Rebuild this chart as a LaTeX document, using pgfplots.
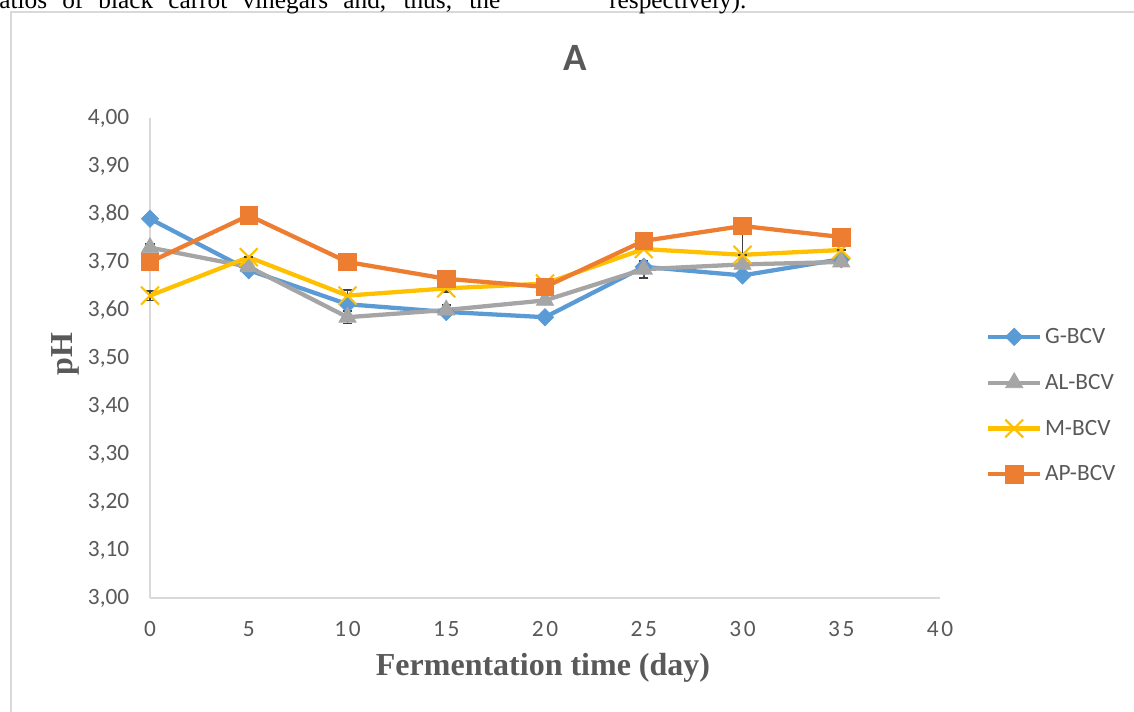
\documentclass[border=0pt]{standalone}
\usepackage{fontspec}
\setmainfont{Liberation Serif}
\newfontfamily\calfont{Carlito}
\newfontfamily\calspfont[LetterSpace=12]{Carlito}
\usepackage{pgfplots}
\pgfplotsset{compat=1.18}
\definecolor{cG}{HTML}{5B9BD5}
\definecolor{cAL}{HTML}{A5A5A5}
\definecolor{cM}{HTML}{FFC000}
\definecolor{cAP}{HTML}{ED7D31}
\definecolor{txt}{HTML}{595959}
\definecolor{axl}{HTML}{D9D9D9}
\begin{document}
\begin{tikzpicture}
\useasboundingbox (0,0) rectangle (850.5pt,533.25pt);
\clip (0,0) rectangle (850.5pt,533.25pt);
% frame of the chart
\draw[color=axl, line width=1.5pt] (8.25pt,-5pt) -- (8.25pt,523.9pt) -- (870pt,523.9pt);
% cut text line at top
\node[anchor=base west, inner sep=0pt, font=\fontsize{19}{21}\selectfont] at (-7pt,526.5pt)
  {\makebox[382pt][s]{ratios of black carrot vinegars and, thus, the}};
\node[anchor=base west, inner sep=0pt, font=\fontsize{19}{21}\selectfont] at (456.75pt,526.5pt) {respectively).};
\begin{axis}[
  at={(112.5pt,84.75pt)}, anchor=south west,
  scale only axis, width=592.5pt, height=360pt,
  xmin=0, xmax=40, ymin=3, ymax=4,
  xtick={0,5,...,40}, ytick={3,3.1,...,4.01},
  axis lines=left,
  axis line style={-, draw=axl, line width=1.3pt},
  major tick length=0pt,
  tick label style={text=txt},
  yticklabel style={font=\fontsize{17.5}{20}\selectfont\calfont, anchor=east, xshift=-12pt},
  xticklabel style={font=\fontsize{17.5}{20}\selectfont\calspfont, anchor=north, yshift=-14pt},
  /pgf/number format/.cd, fixed, fixed zerofill, precision=2, use comma, assume math mode=true,
  /pgfplots/.cd,
  xticklabel={\pgfmathprintnumber[fixed, precision=0]{\tick}},
  clip=false,
  legend style={draw=none, fill=none, at={(1.058,0.568)}, anchor=north west,
    font=\fontsize{17.5}{20}\selectfont\calfont, text=txt, row sep=17.5pt, inner sep=0pt,
    /tikz/every even column/.append style={column sep=4pt}},
  legend cell align=left,
  legend image code/.code={\draw[#1, mark repeat=2, mark phase=2] plot coordinates {(0pt,0pt) (19.5pt,0pt) (39pt,0pt)};},
  every axis plot/.append style={line width=3.2pt},
  error bars/y dir=both, error bars/y explicit,
  error bars/error bar style={line width=1.2pt, color=black!75},
  error bars/error mark options={rotate=90, mark size=3.5pt, line width=1.2pt, color=black!75},
]
\addplot[color=cG, mark=square*, mark size=4.6pt, mark options={rotate=45, fill=cG, draw=cG, line width=0.5pt}]
  coordinates {(0,3.790) +- (0,0) (5,3.683) +- (0,0) (10,3.612) +- (0,0) (15,3.596) +- (0,0)
               (20,3.585) +- (0,0) (25,3.690) +- (0,0.012) (30,3.672) +- (0,0) (35,3.706) +- (0,0)};
\addlegendentry{G-BCV}
\addplot[color=cAL, mark=triangle*, mark size=7.5pt, mark options={fill=cAL, draw=cAL, line width=0.5pt}]
  coordinates {(0,3.730) +- (0,0.008) (5,3.690) +- (0,0) (10,3.585) +- (0,0.013) (15,3.600) +- (0,0.011)
               (20,3.620) +- (0,0) (25,3.685) +- (0,0.018) (30,3.695) +- (0,0) (35,3.700) +- (0,0)};
\addlegendentry{AL-BCV}
\addplot[color=cM, mark=x, mark size=9.5pt, mark options={draw=cM, line width=1.6pt}]
  coordinates {(0,3.630) +- (0,0.01) (5,3.710) +- (0,0) (10,3.630) +- (0,0.012) (15,3.645) +- (0,0.008)
               (20,3.655) +- (0,0.008) (25,3.727) +- (0,0) (30,3.715) +- (0,0) (35,3.725) +- (0,0)};
\addlegendentry{M-BCV}
\addplot[color=cAP, mark=square*, mark size=6.6pt, mark options={fill=cAP, draw=cAP, line width=0.5pt}]
  coordinates {(0,3.700) +- (0,0) (5,3.797) +- (0,0) (10,3.700) +- (0,0) (15,3.665) +- (0,0)
               (20,3.648) +- (0,0) (25,3.744) +- (0,0) (30,3.775) += (0,0) -= (0,0.06) (35,3.752) +- (0,0.006)};
\addlegendentry{AP-BCV}
\end{axis}
\node[font=\fontsize{29}{32}\selectfont\calfont\bfseries, text=txt] at (431.25pt,489.75pt) {A};
\node[font=\fontsize{24}{28}\selectfont\bfseries, text=txt, rotate=90] at (48.75pt,267.75pt) {pH};
\node[font=\fontsize{24}{28}\selectfont\bfseries, text=txt] at (407.25pt,32.25pt) {Fermentation time (day)};
\end{tikzpicture}
\end{document}
